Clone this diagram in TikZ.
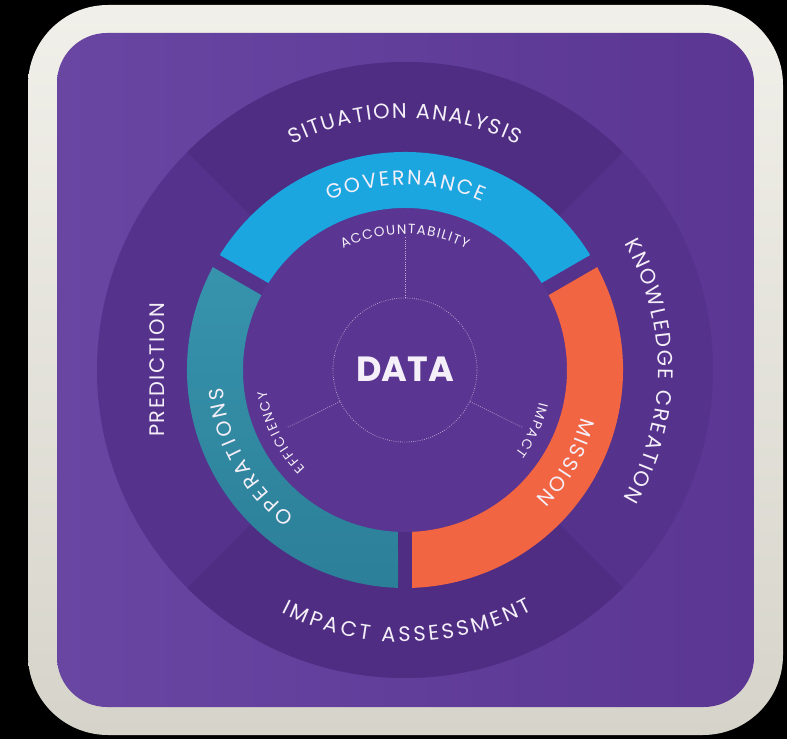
\documentclass[tikz,border=0pt]{standalone}
\usepackage{fontspec}
\newfontfamily\pop{Poppins}
\usetikzlibrary{decorations.text}
\definecolor{framec}{HTML}{E7E5DB}
\definecolor{framed}{HTML}{D6D4CA}
\definecolor{panelA}{HTML}{6846A2}
\definecolor{panelB}{HTML}{5B3693}
\definecolor{sidec}{HTML}{55328C}
\definecolor{tbc}{HTML}{4E2D83}
\definecolor{innerc}{HTML}{5A3592}
\definecolor{govc}{HTML}{1BA6E0}
\definecolor{misc}{HTML}{F26542}
\definecolor{opA}{HTML}{3793AC}
\definecolor{opB}{HTML}{2C7F98}
\definecolor{labc}{HTML}{F4EFF8}
\newcommand\fouter{\pop\fontsize{21}{24}\selectfont}
\newcommand\fring{\pop\fontsize{20.5}{24}\selectfont}
\newcommand\finner{\pop\fontsize{13.5}{16}\selectfont}
\tikzset{
  curvlab/.style={decorate, decoration={text along path, text color=labc, text align={fit to path}, text={#1}}},
  dotline/.style={draw=white, draw opacity=0.6, line width=0.8pt, dash pattern=on 0.7pt off 1.5pt},
}
\begin{document}
\begin{tikzpicture}[x=1pt,y=1pt]
\useasboundingbox (0,0) rectangle (787,739);
\fill[black] (0,0) rectangle (787,739);
% frame and panel
\shade[top color=framec!60!white, bottom color=framed, rounded corners=80pt] (28,4) rectangle (783,734);
\shade[left color=panelA, right color=panelB, rounded corners=50pt] (57,32) rectangle (754,706);
\begin{scope}[shift={(405,369)}]
  % background disc with sectors
  \fill[sidec] (0,0) circle[radius=308];
  \fill[tbc] (0,0) -- (45:308) arc[start angle=45, end angle=135, radius=308] -- cycle;
  \fill[tbc] (0,0) -- (225:308) arc[start angle=225, end angle=315, radius=308] -- cycle;
  \fill[innerc] (0,0) circle[radius=162];
  % ring segments
  \fill[govc] (31.84:218) arc[start angle=31.84, end angle=148.16, radius=218]
    -- (147.52:162) arc[start angle=147.52, end angle=32.48, radius=162] -- cycle;
  \fill[misc] (28.16:218) arc[start angle=28.16, end angle=-88.16, radius=218]
    -- (-87.52:162) arc[start angle=-87.52, end angle=27.52, radius=162] -- cycle;
  \shade[top color=opA, bottom color=opB] (151.84:218) arc[start angle=151.84, end angle=268.16, radius=218]
    -- (267.52:162) arc[start angle=267.52, end angle=152.48, radius=162] -- cycle;
  % center
  \node[circle, minimum size=144pt, inner sep=0pt, dotline] (core) at (0,0) {};
  \node[text=labc, font={\pop\bfseries\fontsize{35}{40}\selectfont}] (data) at (0,1) {DATA};
  \coordinate (sA) at (90:133);
  \coordinate (sB) at (206:131);
  \coordinate (sC) at (-26:131);
  \draw[dotline] (core.90) -- (sA);
  \draw[dotline] (core.206) -- (sB);
  \draw[dotline] (core.-26) -- (sC);
  % outer labels
  \path[curvlab={|\fouter|SITUATION ANALYSIS}] (116.5:252) arc[start angle=116.5, end angle=63.5, radius=252];
  \path[curvlab={|\fouter|KNOWLEDGE CREATION}] (30:253) arc[start angle=30, end angle=-30.5, radius=253];
  \path[curvlab={|\fouter|IMPACT ASSESSMENT}] (-117:272) arc[start angle=-117, end angle=-62, radius=272];
  % ring labels
  \path[curvlab={|\fring|GOVERNANCE}] (114:185) arc[start angle=114, end angle=65.5, radius=185];
  \path[curvlab={|\fring|OPERATIONS}] (233:183) arc[start angle=233, end angle=185.5, radius=183];
  \path[curvlab={|\fring|MISSION}] (-15:183) arc[start angle=-15, end angle=-44.5, radius=183];
  % inner labels
  \path[curvlab={|\finner|ACCOUNTABILITY}] (117:136) arc[start angle=117, end angle=63, radius=136];
  \path[curvlab={|\finner|EFFICIENCY}] (224.5:140) arc[start angle=224.5, end angle=188.5, radius=140];
  \path[curvlab={|\finner|IMPACT}] (-13.5:138) arc[start angle=-13.5, end angle=-37, radius=138];
\end{scope}
% straight left label
\coordinate (pS) at (164,302);
\coordinate (pE) at (164,436);
\path[curvlab={|\fouter|PREDICTION}] (pS) -- (pE);
\end{tikzpicture}
\end{document}
